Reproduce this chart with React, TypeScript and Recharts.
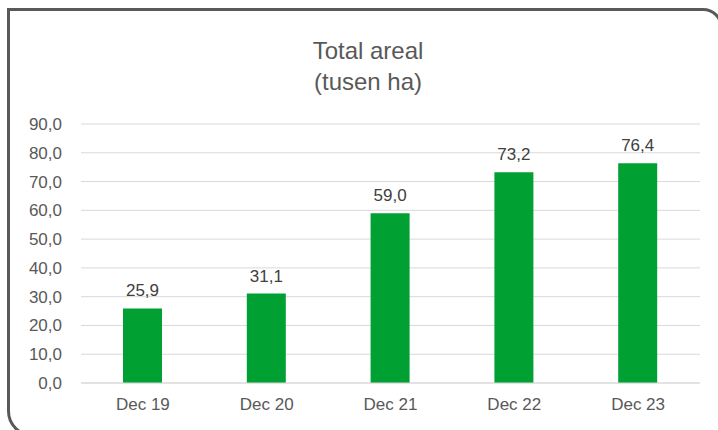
import { Bar, BarChart, CartesianGrid, LabelList, XAxis, YAxis } from "recharts";

const periods = ["Dec 19", "Dec 20", "Dec 21", "Dec 22", "Dec 23"];
const areal = [25.9, 31.1, 59.0, 73.2, 76.4];
const yTicks = [0, 10, 20, 30, 40, 50, 60, 70, 80, 90];

const data = periods.map((p, i) => ({ p, v: areal[i] }));

const fmt = (v: number) => v.toFixed(1).replace(".", ",");

const font = "Liberation Sans, Arial, sans-serif";

export default function App() {
  return (
    <div
      style={{
        position: "fixed",
        left: 0,
        top: 0,
        width: 718,
        height: 430,
        overflow: "hidden",
        background: "#fff",
        fontFamily: font,
      }}
    >
      <div
        style={{
          position: "absolute",
          left: 7,
          top: 8,
          width: 716,
          height: 429,
          boxSizing: "border-box",
          border: "3px solid #595959",
          borderTopRightRadius: 20,
          borderBottomLeftRadius: 26,
        }}
      />
      <div
        style={{
          position: "absolute",
          left: 168,
          width: 400,
          top: 35,
          textAlign: "center",
          fontSize: 24,
          lineHeight: "31px",
          color: "#595959",
        }}
      >
        Total areal
        <br />
        (tusen ha)
      </div>
      <div style={{ position: "absolute", left: 0, top: 0 }}>
        <BarChart
          width={718}
          height={430}
          data={data}
          margin={{ top: 124, right: 18, bottom: 17, left: 0 }}
          barCategoryGap="34%"
        >
          <CartesianGrid vertical={false} stroke="#d9d9d9" strokeWidth={1} />
          <XAxis
            dataKey="p"
            axisLine={{ stroke: "#d9d9d9" }}
            tickLine={false}
            tickSize={0}
            tickMargin={15}
            tick={{ fill: "#595959", fontSize: 17, fontFamily: font }}
          />
          <YAxis
            domain={[0, 90]}
            ticks={yTicks}
            width={81}
            axisLine={false}
            tickLine={false}
            tickSize={0}
            tickMargin={19}
            tickFormatter={fmt}
            tick={{ fill: "#595959", fontSize: 17, fontFamily: font }}
          />
          <Bar dataKey="v" fill="#00A033" barSize={39} isAnimationActive={false}>
            <LabelList
              dataKey="v"
              position="top"
              offset={12}
              formatter={(v: number) => fmt(v)}
              style={{ fill: "#404040", fontSize: 17, fontFamily: font }}
            />
          </Bar>
        </BarChart>
      </div>
    </div>
  );
}
